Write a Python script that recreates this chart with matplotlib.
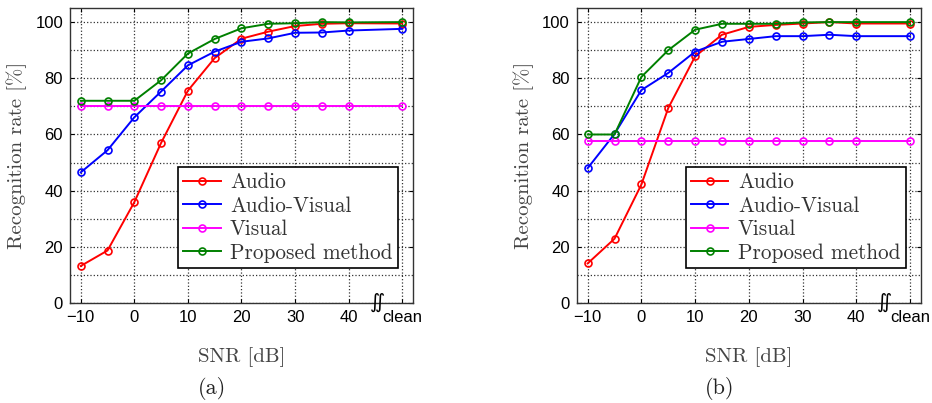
import matplotlib
matplotlib.use('Agg')
import matplotlib.pyplot as plt

plt.rcParams['axes.unicode_minus'] = True

snr = [-10, -5, 0, 5, 10, 15, 20, 25, 30, 35, 40, 50]  # 50 stands for "clean"
xtick_pos = [-10, 0, 10, 20, 30, 40, 50]
xtick_labels = ['\u221210', '0', '10', '20', '30', '40', 'clean']

# panel (a)
audio_a = [13.2, 18.7, 35.9, 57.0, 75.6, 87.2, 94.1, 96.6, 98.6, 99.4, 99.6, 99.5]
av_a = [46.5, 54.4, 66.1, 75.3, 84.6, 89.5, 93.0, 94.2, 96.2, 96.3, 97.0, 97.6]
visual_a = [70.1] * 12
proposed_a = [72.0, 72.0, 72.0, 79.3, 88.8, 94.0, 97.8, 99.4, 99.6, 100.0, 99.9, 100.0]

# panel (b)
audio_b = [14.1, 22.9, 42.2, 69.4, 87.8, 95.5, 98.3, 99.0, 99.5, 100.0, 99.5, 99.5]
av_b = [48.0, 60.2, 75.8, 81.9, 89.5, 93.0, 94.0, 95.0, 95.0, 95.5, 95.0, 95.0]
visual_b = [57.8] * 12
proposed_b = [60.0, 60.0, 80.5, 90.0, 97.3, 99.4, 99.4, 99.4, 99.9, 100.0, 100.0, 100.0]

labels = ['Audio', 'Audio-Visual', 'Visual', 'Proposed method']
colors = ['#ff0000', '#0000ff', '#ff00ff', '#008000']

serif = ['cmr10', 'DejaVu Serif']
sans = ['Liberation Sans', 'DejaVu Sans']

fig = plt.figure(figsize=(9.32, 4.03), dpi=100)
ax1 = fig.add_axes([0.0751, 0.248, 0.368, 0.732])
ax2 = fig.add_axes([0.619, 0.248, 0.369, 0.732])


def draw_panel(ax, series, tag):
    for ys, lab, c in zip(series, labels, colors):
        ax.plot(snr, ys, color=c, linewidth=1.4, marker='o', markersize=5,
                markerfacecolor='none', markeredgewidth=1.2, label=lab)
    ax.set_xlim(-12, 52)
    ax.set_ylim(0, 105)
    ax.set_xticks(xtick_pos)
    ax.set_xticklabels(xtick_labels, fontfamily=sans, fontsize=12)
    ax.set_yticks([0, 20, 40, 60, 80, 100])
    ax.set_yticklabels(['0', '20', '40', '60', '80', '100'], fontfamily=sans, fontsize=12)
    ax.set_yticks([10, 30, 50, 70, 90], minor=True)
    ax.tick_params(which='both', direction='in', top=True, right=True, length=3, pad=5)
    ax.tick_params(which='minor', length=0)
    ax.grid(True, which='major', linestyle=':', color='#333333', linewidth=0.9)
    ax.grid(True, which='minor', axis='y', linestyle=':', color='#333333', linewidth=0.9)
    for s in ax.spines.values():
        s.set_color('#333333')
        s.set_linewidth(1.0)
    ax.set_ylabel('Recognition rate [%]', fontfamily=serif, fontsize=15, color='#444444',
                  labelpad=6)
    ax.text(45.3, 0, r'$\int\!\!\int$', fontsize=10, ha='center', va='center', clip_on=False)
    lgd = ax.legend(loc='lower right', bbox_to_anchor=(0.956, 0.119), borderaxespad=0,
                    prop={'family': serif, 'size': 15.3}, fancybox=False, edgecolor='black',
                    framealpha=1, handlelength=1.75, handletextpad=0.45, labelspacing=0.19,
                    borderpad=0.25)
    lgd.get_frame().set_linewidth(1.2)
    for t in lgd.get_texts():
        t.set_color('#333333')
    xl = ax.text(0.5, -0.183, 'SNR [dB]', transform=ax.transAxes, ha='center', va='center',
                 fontfamily=serif, fontsize=15, color='#444444')
    # sub caption starts where the x label starts
    fig.canvas.draw()
    x0 = xl.get_window_extent().x0 / fig.bbox.width
    y0 = ax.get_position().y0 - 0.29 * ax.get_position().height
    fig.text(x0, y0, tag, ha='left', va='center', fontfamily=serif, fontsize=16,
             color='#222222')


draw_panel(ax1, [audio_a, av_a, visual_a, proposed_a], '(a)')
draw_panel(ax2, [audio_b, av_b, visual_b, proposed_b], '(b)')

fig.savefig('out.png', dpi=100)
